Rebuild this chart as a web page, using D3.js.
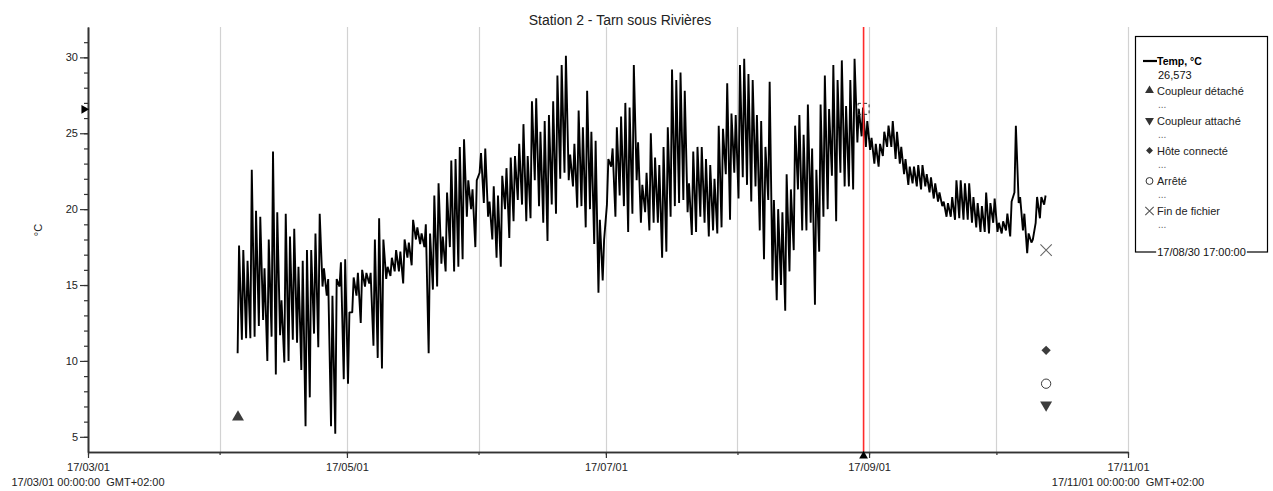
<!DOCTYPE html>
<html>
<head>
<meta charset="utf-8">
<script src="https://cdn.jsdelivr.net/npm/d3@7"></script>
<style>
  body { margin: 0; background: #fff; }
  svg { font-family: "Liberation Sans", Arial, sans-serif; }
</style>
</head>
<body>
<div id="chart"></div>
<script>
// daily [max, min] readings, °C
var tempApr = [[17.6,10.5],[17.3,11.4],[16.6,11.5],[22.6,11.5],[19.9,11.6],[19.5,12.3],[16.1,12.7],[18.0,10.0],[23.8,11.6],[19.8,9.1],
  [14.0,11.7],[19.7,9.9],[18.2,10.0],[18.7,11.4],[16.2,11.2],[16.6,9.4],[17.3,5.7],[17.3,7.6],[18.4,11.8],[19.7,10.9],
  [16.1,14.9],[15.4,14.3],[14.3,5.7],[15.4,5.2],[16.5,14.9],[16.7,8.8]];
var tempMay = [[13.2,8.5],[15.5,13.2],[15.8,14.3],[16.0,12.5],[15.8,14.9],[15.8,15.1],[18.0,11.0],[19.4,10.2],[18.0,9.5],[16.2,15.4],
  [16.8,15.6],[17.3,15.9],[17.2,15.9],[18.0,15.1],[17.8,16.8],[19.3,16.3],[18.8,18.0],[18.4,17.7],[19.0,17.5],[18.4,10.5],
  [20.9,14.7],[21.7,14.9],[18.2,16.4],[21.1,15.9],[23.2,17.5],[23.3,15.9],[24.1,16.2],[24.6,16.7],[21.9,19.5],[21.3,20.0],[21.9,17.5]];
var tempJun = [[23.7,22.4],[24.0,20.4],[20.5,19.5],[21.5,18.0],[20.9,16.8],[22.2,16.2],[22.7,20.0],[23.4,18.1],[23.5,19.2],[24.3,20.6],
  [25.6,20.3],[23.5,19.2],[27.1,19.4],[27.3,21.9],[25.1,20.2],[25.8,19.1],[26.2,17.9],[27.1,20.3],[28.8,19.7],[29.5,22.0],
  [30.1,22.4],[23.6,21.9],[24.3,21.5],[26.5,20.1],[25.4,20.2],[27.8,18.8],[25.1,20.0],[24.5,17.7],[19.3,14.5],[18.0,15.3]];
var tempJul = [[23.3,20.3],[24.0,22.8],[25.4,19.5],[26.1,20.9],[27.0,20.2],[26.7,18.5],[29.5,19.7],[24.4,21.9],[21.6,19.1],[22.4,19.8],
  [25.0,18.6],[23.4,19.1],[22.9,19.1],[24.1,16.8],[25.4,17.2],[29.2,19.5],[28.5,20.2],[29.0,20.4],[27.8,20.6],[21.7,19.8],
  [23.8,18.3],[24.1,18.5],[24.1,19.5],[23.3,19.1],[22.9,18.2],[22.0,18.6],[25.5,18.4],[25.3,18.8],[28.3,22.3],[26.3,19.3],[26.2,22.4]];
var tempAug = [[29.5,20.7],[29.9,22.1],[28.9,21.6],[28.5,20.5],[26.2,21.5],[25.8,18.6],[24.1,16.7],[28.4,20.6],[20.6,15.3],[20.0,14.0],
  [19.8,15.0],[22.3,13.3],[21.3,15.9],[25.5,17.3],[26.2,21.3],[24.9,18.6],[26.9,18.6],[24.0,19.1],[22.6,13.7],[26.9,17.2],
  [28.8,19.5],[26.6,20.0],[29.5,22.2],[28.5,19.2],[29.8,22.4],[26.8,21.5],[28.5,21.5],[29.9,21.3],[26.6,24.4],[26.7,24.8],[25.8,24.1]];
var tempSep = [[24.7,23.9],[24.3,23.0],[24.3,22.8],[25.1,23.5],[25.5,24.1],[25.8,24.1],[25.1,23.3],[24.1,23.0],[23.3,22.3],[22.8,21.6],
  [22.8,21.7],[22.9,21.5],[22.9,21.3],[22.3,21.5],[22.1,21.1],[21.7,20.7],[21.1,20.5],[20.5,20.2],[20.4,19.5],[20.8,19.5],
  [21.9,19.3],[21.9,19.4],[21.7,19.3],[21.7,19.3],[20.8,19.1],[20.4,18.8],[20.2,18.5],[21.1,18.5],[20.4,18.4],[20.7,19.1]];
var tempOct = [[19.1,18.5],[19.2,18.4],[19.7,18.6],[20.5,18.2],[25.5,21.1],[20.8,20.4],[19.7,18.6],[18.4,17.1],[18.0,17.8],[20.8,19.1],
  [20.8,19.4],[20.9,20.3]];

// month (0-based), first day logged, readings
var monthData = [[3, 5, tempApr], [4, 1, tempMay], [5, 1, tempJun], [6, 1, tempJul], [7, 1, tempAug], [8, 1, tempSep], [9, 1, tempOct]];

var majorDates = ["2017-03-01", "2017-05-01", "2017-07-01", "2017-09-01", "2017-11-01"];
var yMajor = [5, 10, 15, 20, 25, 30];

var cursorTime = new Date(2017, 7, 30, 17, 0, 0);
var cursorValue = 26.573;

var events = [
  {name: "Coupleur détaché", sym: "up",      time: new Date(2017, 3, 5, 8),   value: 6.3},
  {name: "Coupleur attaché", sym: "down",    time: new Date(2017, 9, 12, 17), value: 7.1},
  {name: "Hôte connecté",    sym: "diamond", time: new Date(2017, 9, 12, 17), value: 10.7},
  {name: "Arrêté",           sym: "circle",  time: new Date(2017, 9, 12, 17), value: 8.5},
  {name: "Fin de fichier",   sym: "x",       time: new Date(2017, 9, 12, 17), value: 17.3}
];

var W = 1273, H = 491;
var padL = 88, padR = 1128, padT = 27, padB = 452;

var svg = d3.select("#chart").append("svg").attr("width", W).attr("height", H);

var x = d3.scaleTime().domain([new Date(2017, 2, 1), new Date(2017, 10, 1)]).range([padL, padR]);
var y = d3.scaleLinear().domain([4, 32]).range([padB, padT]);

// build the series: min in the morning, max in the afternoon
var series = [];
monthData.forEach(function(m) {
  m[2].forEach(function(p, i) {
    var day = m[1] + i;
    series.push({t: new Date(2017, m[0], day, 6), v: p[1]});
    series.push({t: new Date(2017, m[0], day, 14), v: p[0]});
  });
});

// month grid
svg.append("g").selectAll("line")
   .data(d3.timeMonth.range(new Date(2017, 3, 1), new Date(2017, 10, 2)))
   .enter().append("line")
   .attr("x1", function(d) { return Math.round(x(d)) + 0.5; })
   .attr("x2", function(d) { return Math.round(x(d)) + 0.5; })
   .attr("y1", padT).attr("y2", padB)
   .style("stroke", "#d2d2d2").style("stroke-width", 1.2);

// title + y label
svg.append("text").attr("x", 620).attr("y", 25).attr("text-anchor", "middle")
   .style("font-size", "14px").style("fill", "#222").text("Station 2 - Tarn sous Rivières");
svg.append("text").attr("transform", "translate(42,230) rotate(-90)").attr("text-anchor", "middle")
   .style("font-size", "11px").style("fill", "#222").text("°C");

// temperature line
svg.append("path").datum(series)
   .attr("d", d3.line().x(function(d) { return x(d.t); }).y(function(d) { return y(d.v); }))
   .style("fill", "none").style("stroke", "#000").style("stroke-width", 1.9)
   .style("stroke-linejoin", "bevel");

// cursor line
svg.append("line")
   .attr("x1", x(cursorTime)).attr("x2", x(cursorTime)).attr("y1", padT).attr("y2", padB)
   .style("stroke", "#ff2a2a").style("stroke-width", 1.6);

// axes
var yAxisMinor = d3.axisLeft(y).tickValues(d3.range(5, 32)).tickSize(4).tickFormat("").tickSizeOuter(0);
var yAxis = d3.axisLeft(y).tickValues(yMajor).tickSize(8).tickPadding(2).tickSizeOuter(0);
var xAxisMinor = d3.axisBottom(x).ticks(d3.timeMonth.every(1)).tickSize(3).tickFormat("").tickSizeOuter(0);
var xAxis = d3.axisBottom(x).tickValues(majorDates.map(function(d) { return d3.timeParse("%Y-%m-%d")(d); }))
   .tickFormat(d3.timeFormat("%y/%m/%d")).tickSize(6).tickPadding(5).tickSizeOuter(0);

svg.append("g").attr("transform", "translate(" + padL + ",0)").call(yAxisMinor);
svg.append("g").attr("transform", "translate(" + padL + ",0)").call(yAxis);
svg.append("g").attr("transform", "translate(0," + padB + ")").call(xAxisMinor);
svg.append("g").attr("transform", "translate(0," + padB + ")").call(xAxis);

svg.selectAll(".domain").style("stroke", "#333").style("stroke-width", 1.6);
svg.selectAll(".tick line").style("stroke", "#333").style("stroke-width", 1.2);
svg.selectAll(".tick text").style("font-size", "11px").style("fill", "#222")
   .style("font-family", "\"Liberation Sans\", Arial, sans-serif");

// full date under first and last tick
var edgeDates = [x.domain()[0], x.domain()[1]];
svg.append("g").selectAll("text").data(edgeDates).enter().append("text")
   .attr("x", function(d) { return x(d); }).attr("y", 486).attr("text-anchor", "middle")
   .style("font-size", "11px").style("fill", "#222")
   .text(function(d) { return d3.timeFormat("%y/%m/%d %H:%M:%S")(d) + "  GMT+02:00"; })
   .style("white-space", "pre");

// event symbols
function symPath(kind, size) {
  if (kind === "up" || kind === "down") return d3.symbol(d3.symbolTriangle, size)();
  if (kind === "diamond") return d3.symbol(d3.symbolSquare, size * 0.7)();
  if (kind === "circle") return d3.symbol(d3.symbolCircle, size * 1.1)();
  var r = Math.sqrt(size) * 0.72, p = d3.path();
  p.moveTo(-r, -r); p.lineTo(r, r); p.moveTo(r, -r); p.lineTo(-r, r);
  return p.toString();
}
function drawSym(g, kind, size, color) {
  var rot = kind === "down" ? "rotate(180)" : (kind === "diamond" ? "rotate(45)" : null);
  g.append("path").attr("d", symPath(kind, size))
   .attr("transform", rot)
   .style("fill", (kind === "circle" || kind === "x") ? "none" : color)
   .style("stroke", (kind === "circle" || kind === "x") ? color : "none")
   .style("stroke-width", kind === "x" ? 1.1 : 1);
}

events.forEach(function(e) {
  var g = svg.append("g").attr("transform", "translate(" + x(e.time) + "," + y(e.value) + ")");
  drawSym(g, e.sym, 62, e.sym === "x" ? "#666" : "#3c3c3c");
});

// cursor markers: value arrow on y axis, square on series, triangle on x axis
var ga = svg.append("g").attr("transform", "translate(" + (padL - 4) + "," + y(cursorValue) + ") rotate(90)");
ga.append("path").attr("d", d3.symbol(d3.symbolTriangle, 34)()).style("fill", "#000");
var gb = svg.append("g").attr("transform", "translate(" + x(cursorTime) + "," + (padB + 4) + ")");
gb.append("path").attr("d", d3.symbol(d3.symbolTriangle, 34)()).style("fill", "#000");
svg.append("rect").attr("x", x(cursorTime) - 5.5).attr("y", y(cursorValue) - 6).attr("width", 11).attr("height", 11)
   .style("fill", "none").style("stroke", "#333").style("stroke-dasharray", "3,3");

// legend box
var lg = svg.append("g");
lg.append("rect").attr("x", 1135.5).attr("y", 36.5).attr("width", 132).attr("height", 215.5)
  .style("fill", "#fff").style("stroke", "#000").style("stroke-width", 1.2);
lg.append("line").attr("x1", 1143).attr("x2", 1157).attr("y1", 61).attr("y2", 61)
  .style("stroke", "#000").style("stroke-width", 2.2);
lg.append("text").attr("x", 1157).attr("y", 65).style("fill", "#000")
  .style("font-weight", "bold").style("font-size", "10.5px").text("Temp, °C");
lg.append("text").attr("x", 1158).attr("y", 79).style("font-size", "11px").style("fill", "#111")
  .text(d3.format(".3f")(cursorValue).replace(".", ","));

var rowY = [90.5, 120.5, 150.5, 181, 211];
events.forEach(function(e, i) {
  var g = lg.append("g").attr("transform", "translate(1149.5," + rowY[i] + ")");
  drawSym(g, e.sym, 34, e.sym === "x" ? "#555" : "#333");
  lg.append("text").attr("x", 1157).attr("y", rowY[i] + 4).style("font-size", "11px").style("fill", "#222").text(e.name);
  lg.append("text").attr("x", 1158).attr("y", rowY[i] + 17).style("font-size", "10px").style("fill", "#666").text("...");
});

var stamp = lg.append("text").attr("x", 1201.5).attr("y", 256).attr("text-anchor", "middle")
  .style("font-size", "11px").style("fill", "#111").text(d3.timeFormat("%y/%m/%d %H:%M:%S")(cursorTime));
var bb = stamp.node().getBBox();
lg.insert("rect", "text:last-child").attr("x", bb.x - 1).attr("y", 246).attr("width", bb.width + 2).attr("height", 10)
  .style("fill", "#fff");
</script>
</body>
</html>
